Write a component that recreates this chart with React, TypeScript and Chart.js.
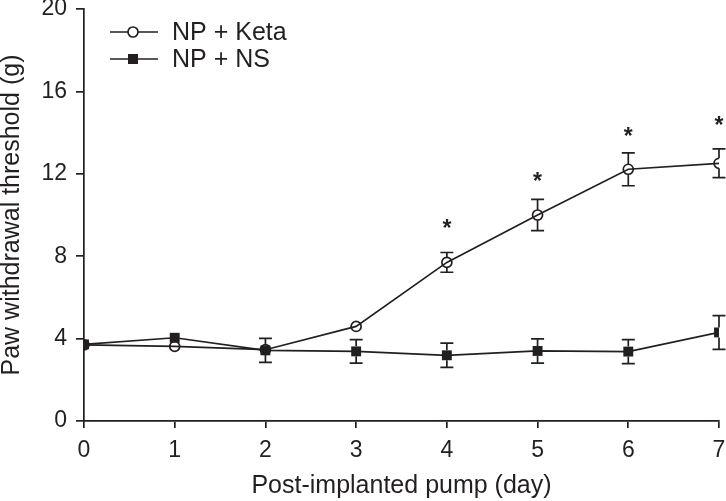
import React, { useEffect, useRef } from "react";
import { Chart, registerables } from "chart.js";
Chart.register(...registerables);

const days = [0, 1, 2, 3, 4, 5, 6, 7];
const ketaMean = [3.7, 3.62, 3.46, 4.59, 7.7, 10.0, 12.22, 12.51];
const ketaErr = [0, 0, 0, 0, 0.48, 0.76, 0.8, 0.7];
const nsMean = [3.72, 4.04, 3.43, 3.38, 3.19, 3.4, 3.37, 4.3];
const nsErr = [0, 0, 0.58, 0.57, 0.59, 0.59, 0.58, 0.82];
const sigDays = [4, 5, 6, 7];
const sigLevel = [9.37, 11.64, 13.85, 14.36];
const yTicks = [0, 4, 8, 12, 16, 20];
const seriesLabels = ["NP + Keta", "NP + NS"];
const xTitle = "Post-implanted pump (day)";
const yTitle = "Paw withdrawal threshold (g)";

const INK = "#231f20";
const FONT = "'Liberation Sans', Arial, Helvetica, sans-serif";

const errorBarPlugin = {
  id: "errorBars",
  afterDatasetsDraw(chart: any) {
    const ctx = chart.ctx;
    const xs = chart.scales.x;
    const ys = chart.scales.y;
    const sets = [
      { mean: ketaMean, err: ketaErr, gap: 5 },
      { mean: nsMean, err: nsErr, gap: 5 },
    ];
    ctx.save();
    ctx.strokeStyle = INK;
    ctx.lineWidth = 1.7;
    sets.forEach((s) => {
      days.forEach((d, i) => {
        const e = s.err[i];
        if (!e) return;
        const px = xs.getPixelForValue(d);
        const pc = ys.getPixelForValue(s.mean[i]);
        const pt = ys.getPixelForValue(s.mean[i] + e);
        const pb = ys.getPixelForValue(s.mean[i] - e);
        ctx.beginPath();
        ctx.moveTo(px, pc - s.gap);
        ctx.lineTo(px, pt);
        ctx.moveTo(px, pc + s.gap);
        ctx.lineTo(px, pb);
        ctx.moveTo(px - 6.5, pt);
        ctx.lineTo(px + 6.5, pt);
        ctx.moveTo(px - 6.5, pb);
        ctx.lineTo(px + 6.5, pb);
        ctx.stroke();
      });
    });
    // significance asterisks
    ctx.fillStyle = INK;
    ctx.font = `bold 23px ${FONT}`;
    ctx.textAlign = "center";
    ctx.textBaseline = "alphabetic";
    sigDays.forEach((d, i) => {
      const px = xs.getPixelForValue(d);
      const py = ys.getPixelForValue(sigLevel[i]);
      ctx.fillText("*", px, py + 8);
    });
    ctx.restore();
  },
  afterDraw(chart: any) {
    const ctx = chart.ctx;
    ctx.save();
    ctx.strokeStyle = INK;
    ctx.fillStyle = INK;
    ctx.lineWidth = 1.7;
    const rows = [32, 59];
    rows.forEach((y, i) => {
      ctx.beginPath();
      ctx.moveTo(110, y);
      ctx.lineTo(158, y);
      ctx.stroke();
      if (i === 0) {
        ctx.beginPath();
        ctx.arc(133, y, 5, 0, Math.PI * 2);
        ctx.fillStyle = "#ffffff";
        ctx.fill();
        ctx.stroke();
        ctx.fillStyle = INK;
      } else {
        ctx.fillRect(128, y - 5, 10, 10);
      }
      ctx.font = `25px ${FONT}`;
      ctx.textAlign = "left";
      ctx.textBaseline = "middle";
      ctx.fillText(seriesLabels[i], 172, y + 1);
    });
    ctx.restore();
  },
};

export default function App() {
  const ref = useRef<HTMLCanvasElement | null>(null);
  useEffect(() => {
    document.body.style.margin = "0";
    const canvas = ref.current;
    if (!canvas) return;
    const chart = new Chart(canvas, {
      type: "line",
      data: {
        datasets: [
          {
            label: seriesLabels[0],
            data: days.map((d, i) => ({ x: d, y: ketaMean[i] })),
            borderColor: INK,
            borderWidth: 1.7,
            backgroundColor: "rgba(0,0,0,0)",
            pointStyle: "circle",
            pointRadius: 5,
            pointBorderWidth: 1.7,
            pointBorderColor: INK,
            pointBackgroundColor: "rgba(255,255,255,0)",
            tension: 0,
          },
          {
            label: seriesLabels[1],
            data: days.map((d, i) => ({ x: d, y: nsMean[i] })),
            borderColor: INK,
            borderWidth: 1.7,
            backgroundColor: INK,
            pointStyle: "rect",
            pointRadius: 7,
            pointBorderWidth: 0,
            pointBackgroundColor: INK,
            tension: 0,
          },
        ],
      },
      options: {
        responsive: false,
        animation: false,
        layout: { padding: { top: 9, right: 7, left: 0, bottom: 0 } },
        plugins: {
          legend: { display: false },
          tooltip: { enabled: false },
        },
        scales: {
          x: {
            type: "linear",
            min: 0,
            max: 7,
            afterBuildTicks: (s: any) => {
              s.ticks = days.map((d) => ({ value: d }));
            },
            afterFit: (s: any) => {
              s.height = 80;
              s.paddingLeft = 0;
              s.paddingRight = 0;
            },
            border: { display: true, color: INK, width: 1.7 },
            grid: {
              drawOnChartArea: false,
              drawTicks: true,
              tickLength: 7,
              color: INK,
              lineWidth: 1.7,
            },
            ticks: {
              color: INK,
              padding: 9,
              font: { family: FONT, size: 23 },
              maxRotation: 0,
            },
            title: {
              display: true,
              text: xTitle,
              color: INK,
              font: { family: FONT, size: 25, lineHeight: 1 },
              padding: { top: 0, bottom: 2 },
            },
          },
          y: {
            type: "linear",
            min: 0,
            max: 20,
            afterBuildTicks: (s: any) => {
              s.ticks = yTicks.map((v) => ({ value: v }));
            },
            afterFit: (s: any) => {
              s.width = 84;
              s.paddingTop = 0;
              s.paddingBottom = 0;
            },
            border: { display: true, color: INK, width: 1.7 },
            grid: {
              drawOnChartArea: false,
              drawTicks: true,
              tickLength: 8,
              color: INK,
              lineWidth: 1.7,
            },
            ticks: {
              color: INK,
              padding: 9,
              font: { family: FONT, size: 23 },
            },
            title: {
              display: true,
              text: yTitle,
              color: INK,
              font: { family: FONT, size: 25, lineHeight: 1 },
              padding: { top: 0, bottom: 0 },
            },
          },
        },
      },
      plugins: [errorBarPlugin],
    });
    return () => chart.destroy();
  }, []);
  return (
    <div style={{ position: "absolute", left: 0, top: 0, width: 726, height: 501, background: "#fff" }}>
      <canvas ref={ref} width={726} height={501} />
    </div>
  );
}
